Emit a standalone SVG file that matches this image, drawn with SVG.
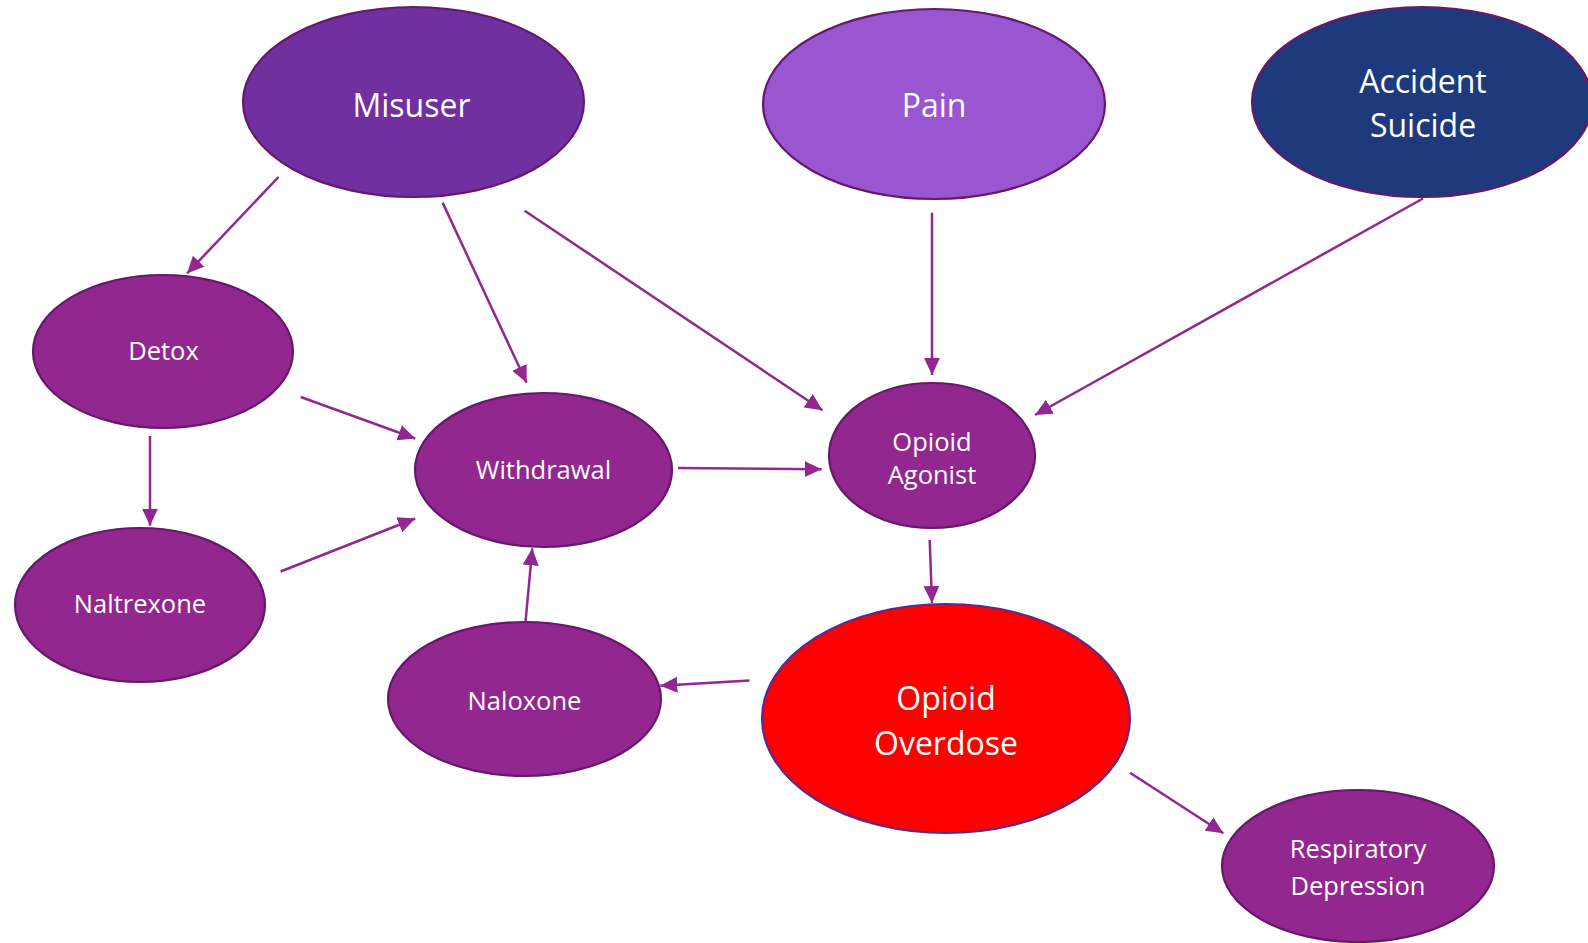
<svg xmlns="http://www.w3.org/2000/svg" width="1588" height="943" viewBox="0 0 1588 943">
<style>
.node{stroke:#66186a;stroke-width:2.2}
.sm{fill:#92278f}
.lbl{font-family:"Open Sans","Noto Sans",sans-serif;fill:#fff;text-anchor:middle}
.big{font-size:32px}
.small{font-size:25.5px}
.edge{stroke:#92278f;stroke-width:2.5;fill:none;marker-end:url(#ah)}
</style>
<defs>
<marker id="ah" markerUnits="userSpaceOnUse" markerWidth="18" markerHeight="17" refX="17" refY="8" orient="auto" viewBox="0 0 18 17">
<path d="M0,0 L17,8 L0,16 Z" fill="#92278f"/>
</marker>
</defs>
<rect width="1588" height="943" fill="#fff"/>
<g id="connectors">
<line class="edge" x1="278.5" y1="177" x2="187" y2="273.5"/>
<line class="edge" x1="442.6" y1="202.6" x2="526.6" y2="382.8"/>
<line class="edge" x1="524.6" y1="210.7" x2="822.4" y2="410.2"/>
<line class="edge" x1="932" y1="212.7" x2="932" y2="375"/>
<line class="edge" x1="1423" y1="198.5" x2="1035" y2="415"/>
<line class="edge" x1="300.8" y1="397" x2="415.2" y2="438.5"/>
<line class="edge" x1="150" y1="436" x2="150" y2="525.7"/>
<line class="edge" x1="280.6" y1="571.5" x2="415.2" y2="518.5"/>
<line class="edge" x1="678" y1="468" x2="821.7" y2="469.3"/>
<line class="edge" x1="929.7" y1="540" x2="932" y2="603"/>
<line class="edge" x1="749.5" y1="680.6" x2="660.3" y2="685.7"/>
<line class="edge" x1="525.6" y1="620.8" x2="532.3" y2="548.3"/>
<line class="edge" x1="1130" y1="772.7" x2="1223.3" y2="833.3"/>
</g>
<g id="misuser">
<ellipse class="node" cx="413.5" cy="102" rx="170.5" ry="95" fill="#7030a0"/>
<text class="lbl big" x="411.5" y="117">Misuser</text>
</g>
<g id="pain">
<ellipse class="node" cx="934" cy="104" rx="171" ry="95" fill="#9a55d1"/>
<text class="lbl big" x="934" y="117">Pain</text>
</g>
<g id="accident-suicide">
<ellipse class="node" cx="1422" cy="102" rx="170" ry="95" fill="#1e3a7c"/>
<text class="lbl big" x="1423" y="93">Accident</text>
<text class="lbl big" x="1423" y="137">Suicide</text>
</g>
<g id="detox">
<ellipse class="node sm" cx="163" cy="351.5" rx="130" ry="76.5"/>
<text class="lbl small" x="163.5" y="360">Detox</text>
</g>
<g id="naltrexone">
<ellipse class="node sm" cx="140" cy="605" rx="125" ry="77"/>
<text class="lbl small" x="140" y="613">Naltrexone</text>
</g>
<g id="withdrawal">
<ellipse class="node sm" cx="543.5" cy="470" rx="128.5" ry="77"/>
<text class="lbl small" x="543.5" y="479">Withdrawal</text>
</g>
<g id="opioid-agonist">
<ellipse class="node sm" cx="932" cy="455.5" rx="103" ry="72.5"/>
<text class="lbl small" x="932" y="451">Opioid</text>
<text class="lbl small" x="932" y="484">Agonist</text>
</g>
<g id="naloxone">
<ellipse class="node sm" cx="524.5" cy="699" rx="136.5" ry="77"/>
<text class="lbl small" x="524.5" y="710">Naloxone</text>
</g>
<g id="opioid-overdose">
<ellipse cx="946" cy="718.5" rx="184" ry="114.5" fill="#ff0000" stroke="#5a2a8c" stroke-width="2.2"/>
<text class="lbl big" x="946" y="710">Opioid</text>
<text class="lbl big" x="946" y="755">Overdose</text>
</g>
<g id="respiratory-depression">
<ellipse class="node sm" cx="1358" cy="866" rx="136" ry="76"/>
<text class="lbl small" x="1358" y="858">Respiratory</text>
<text class="lbl small" x="1358" y="895">Depression</text>
</g>
</svg>
